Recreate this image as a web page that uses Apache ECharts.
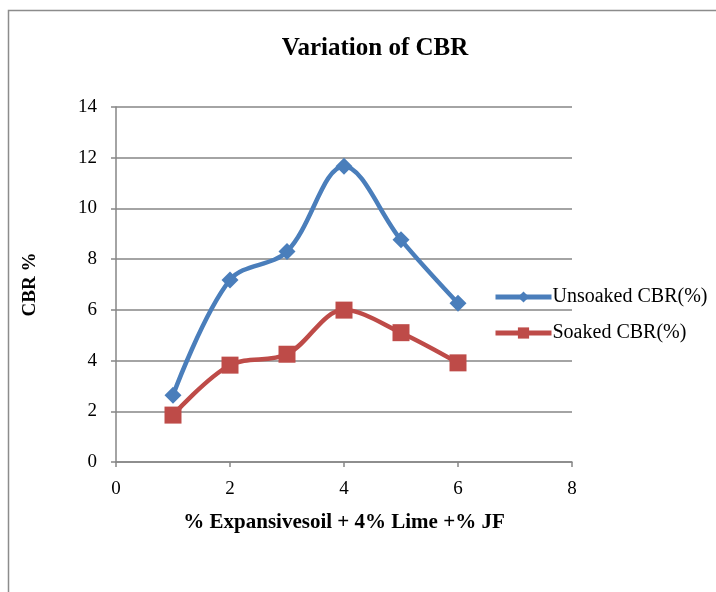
<!DOCTYPE html>
<html>
<head>
<meta charset="utf-8">
<script src="https://cdn.jsdelivr.net/npm/echarts@6/dist/echarts.min.js"></script>
<style>
  html, body { margin: 0; padding: 0; background: #fff; }
  #chart { width: 716px; height: 592px; }
</style>
</head>
<body>
<div id="chart"></div>
<script>
// JF content (%) on the x axis
const jfPercent = [1, 2, 3, 4, 5, 6];
// CBR values (%)
const unsoakedCBR = [2.63, 7.18, 8.3, 11.66, 8.76, 6.26];
const soakedCBR = [1.85, 3.82, 4.25, 5.99, 5.1, 3.91];
const seriesNames = ['Unsoaked CBR(%)', 'Soaked CBR(%)'];

const serif = '"Liberation Serif", "DejaVu Serif", serif';
const axisGray = '#868686';

const chart = echarts.init(document.getElementById('chart'));

chart.setOption({
  animation: false,
  backgroundColor: '#fff',
  graphic: [{
    type: 'rect',
    shape: { x: 8.5, y: 10.5, width: 720, height: 600 },
    style: { fill: 'none', stroke: '#8c8c8c', lineWidth: 1.5 },
    silent: true
  }],
  title: {
    text: 'Variation of CBR',
    left: 370,
    textAlign: 'center',
    top: 31,
    textStyle: { fontFamily: serif, fontWeight: 'bold', fontSize: 25, color: '#000' }
  },
  legend: {
    orient: 'vertical',
    left: 488,
    top: 282,
    itemGap: 16,
    itemWidth: 56,
    itemHeight: 14,
    lineStyle: { width: 5 },
    textStyle: { fontFamily: serif, fontSize: 20, color: '#000', padding: [0, 0, 0, -4] },
    data: seriesNames
  },
  grid: { left: 116, right: 144, top: 107, bottom: 130 },
  xAxis: {
    type: 'value',
    min: 0, max: 8, interval: 2,
    name: '% Expansivesoil + 4% Lime +% JF',
    nameLocation: 'middle',
    nameGap: 50,
    nameTextStyle: { fontFamily: serif, fontWeight: 'bold', fontSize: 21, color: '#000' },
    axisLine: { lineStyle: { color: axisGray, width: 1.5 } },
    axisTick: { show: true, length: 5, lineStyle: { color: axisGray, width: 1.5 } },
    axisLabel: { fontFamily: serif, fontSize: 19, color: '#000', margin: 18 },
    splitLine: { show: false }
  },
  yAxis: {
    type: 'value',
    min: 0, max: 14, interval: 2,
    name: 'CBR %',
    nameLocation: 'middle',
    nameGap: 76,
    nameTextStyle: { fontFamily: serif, fontWeight: 'bold', fontSize: 19, color: '#000' },
    axisLine: { show: true, lineStyle: { color: axisGray, width: 1.5 } },
    axisTick: { show: true, length: 5, lineStyle: { color: axisGray, width: 1.5 } },
    axisLabel: { fontFamily: serif, fontSize: 19, color: '#000', margin: 19 },
    splitLine: { show: true, lineStyle: { color: axisGray, width: 1.5 } }
  },
  series: [
    {
      name: seriesNames[0],
      type: 'line',
      smooth: 0.35,
      data: jfPercent.map((x, i) => [x, unsoakedCBR[i]]),
      symbol: 'diamond',
      symbolSize: 17,
      itemStyle: { color: '#4A7EBB' },
      lineStyle: { color: '#4A7EBB', width: 4.5 }
    },
    {
      name: seriesNames[1],
      type: 'line',
      smooth: 0.35,
      data: jfPercent.map((x, i) => [x, soakedCBR[i]]),
      symbol: 'rect',
      symbolSize: 17,
      itemStyle: { color: '#BE4B48' },
      lineStyle: { color: '#BE4B48', width: 4.5 }
    }
  ]
});
</script>
</body>
</html>
